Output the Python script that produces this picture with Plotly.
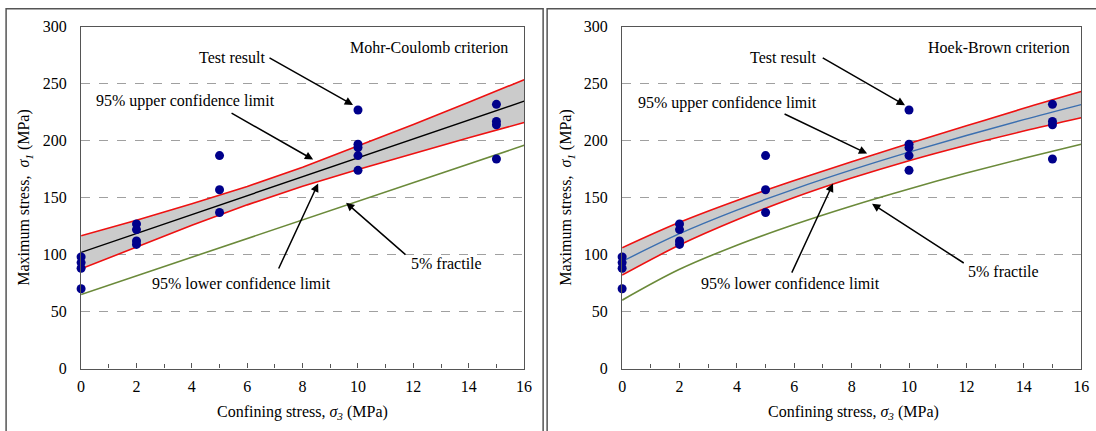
import plotly.graph_objects as go

# ---------------- data ----------------
sigma3_pts = [0, 0, 0, 0, 2, 2, 2, 2, 5, 5, 5, 10, 10, 10, 10, 10, 15, 15, 15, 15]
sigma1_pts = [98, 93, 88, 70, 127, 122, 112, 109, 187, 157, 137, 227, 197, 194, 187, 174, 232, 217, 214, 184]

s3_curve = [0, 2, 4, 6, 8, 10, 12, 14, 16]

# Mohr-Coulomb (left)
mc_mean = [102, 118.6, 135.2, 151.8, 168.4, 185, 201.6, 218.2, 234.8]
mc_upper = [116.5, 130.2, 144.6, 159.9, 176.8, 195.2, 214.3, 233.8, 253.6]
mc_lower = [87.5, 107, 125.8, 143.7, 160, 174.8, 188.9, 202.6, 216]
mc_frac5 = [65, 81.4, 97.8, 114.2, 130.6, 147, 163.4, 179.8, 196]

# Hoek-Brown (right)
hb_mean = [94, 118.4, 139.1, 157.6, 174.4, 190, 204.6, 218.5, 231.7]
hb_upper = [106, 128.4, 147.6, 165.1, 181.6, 197.5, 213.1, 228.5, 243.2]
hb_lower = [82, 108.4, 130.6, 150.1, 167.2, 182.5, 196.1, 208.5, 220.2]
hb_frac5 = [60, 87.1, 108.3, 126.5, 142.8, 157.7, 171.6, 184.6, 197]

x_ticks = [0, 2, 4, 6, 8, 10, 12, 14, 16]
y_ticks = [0, 50, 100, 150, 200, 250, 300]

FONT = "Times New Roman, Liberation Serif, serif"
W, H = 1096, 431


# map picture-pixel positions to paper coordinates (compensating the capture)
def px(X):
    return max(0.0, (X - 3.9) / 0.989) / W


def py(Y):
    return 1 - max(0.8, (Y - 8.2) / 0.956) / H


fig = go.Figure()


def add_panel(xa, ya, mean, upper, lower, frac, mean_color, shape):
    xr, yr = xa, ya
    fig.add_trace(go.Scatter(x=s3_curve, y=lower, mode="lines", line=dict(width=0, shape=shape),
                             xaxis=xr, yaxis=yr, showlegend=False, hoverinfo="skip"))
    fig.add_trace(go.Scatter(x=s3_curve, y=upper, mode="lines", line=dict(width=0, shape=shape),
                             fill="tonexty", fillcolor="#cbcbcb",
                             xaxis=xr, yaxis=yr, showlegend=False, hoverinfo="skip"))
    fig.add_trace(go.Scatter(x=s3_curve, y=upper, mode="lines", line=dict(color="#ee1111", width=1.6, shape=shape),
                             xaxis=xr, yaxis=yr, showlegend=False))
    fig.add_trace(go.Scatter(x=s3_curve, y=lower, mode="lines", line=dict(color="#ee1111", width=1.6, shape=shape),
                             xaxis=xr, yaxis=yr, showlegend=False))
    fig.add_trace(go.Scatter(x=s3_curve, y=mean, mode="lines", line=dict(color=mean_color, width=1.4, shape=shape),
                             xaxis=xr, yaxis=yr, showlegend=False))
    fig.add_trace(go.Scatter(x=s3_curve, y=frac, mode="lines", line=dict(color="#6b8a3a", width=1.6, shape=shape),
                             xaxis=xr, yaxis=yr, showlegend=False))
    fig.add_trace(go.Scatter(x=sigma3_pts, y=sigma1_pts, mode="markers",
                             marker=dict(color="#00008b", size=9), cliponaxis=False,
                             xaxis=xr, yaxis=yr, showlegend=False))


add_panel("x", "y", mc_mean, mc_upper, mc_lower, mc_frac5, "#000000", "linear")
add_panel("x2", "y2", hb_mean, hb_upper, hb_lower, hb_frac5, "#3b6fb0", "spline")

ydom = [py(367), py(27)]
axis_common_x = dict(range=[0, 16], tickvals=x_ticks, ticks="inside", ticklen=5, tickcolor="#555",
                     minor=dict(dtick=1, ticks="inside", ticklen=4, tickcolor="#555", showgrid=False),
                     showline=True, mirror=True, linecolor="#555", linewidth=1.2,
                     showgrid=False, zeroline=False, ticklabelstandoff=3,
                     tickfont=dict(family=FONT, size=16, color="#000"))
axis_common_y = dict(range=[0, 300], tickvals=y_ticks, ticks="", showline=True, mirror=True,
                     linecolor="#555", linewidth=1.2, showgrid=True, gridcolor="#a0a0a0",
                     griddash="dash", gridwidth=1, zeroline=False, ticklabelstandoff=10,
                     tickfont=dict(family=FONT, size=16, color="#000"), domain=ydom)

fig.update_layout(
    width=W, height=H, margin=dict(l=0, r=0, t=0, b=0),
    paper_bgcolor="white", plot_bgcolor="white",
    xaxis=dict(domain=[px(81), px(524)], anchor="y", **axis_common_x),
    yaxis=dict(anchor="x", **axis_common_y),
    xaxis2=dict(domain=[px(622), px(1081)], anchor="y2", **axis_common_x),
    yaxis2=dict(anchor="x2", **axis_common_y),
    showlegend=False,
)

ann = []
tf = dict(family=FONT, size=16, color="#000")


def txt(x, y, t, xr, yr):
    ann.append(dict(x=x, y=y, xref=xr, yref=yr, text=t, showarrow=False, font=tf,
                    xanchor="center", yanchor="middle"))


def arrow(xh, yh, xt, yt, xr, yr):
    ann.append(dict(x=xh, y=yh, ax=xt, ay=yt, xref=xr, yref=yr, axref=xr, ayref=yr, text="",
                    showarrow=True, arrowhead=2, arrowsize=1.1, arrowwidth=1.5, arrowcolor="#000",
                    standoff=0, startstandoff=0))


# left panel
txt(5.45, 273.5, "Test result", "x", "y")
arrow(9.82, 231.5, 6.75, 273.5, "x", "y")
txt(3.76, 234.7, "95% upper confidence limit", "x", "y")
arrow(8.38, 183.5, 5.38, 225, "x", "y")
txt(5.78, 75, "95% lower confidence limit", "x", "y")
arrow(8.56, 162.4, 7.11, 86.5, "x", "y")
txt(13.18, 92.6, "5% fractile", "x", "y")
arrow(9.57, 145.6, 11.77, 98.8, "x", "y")
txt(12.57, 281.5, "Mohr-Coulomb criterion", "x", "y")

# right panel
txt(5.61, 273.5, "Test result", "x2", "y2")
arrow(9.86, 231.2, 6.94, 273.5, "x2", "y2")
txt(3.66, 233, "95% upper confidence limit", "x2", "y2")
arrow(8.54, 188.8, 5.61, 224.1, "x2", "y2")
txt(5.86, 75, "95% lower confidence limit", "x2", "y2")
arrow(7.35, 162.4, 5.89, 82.9, "x2", "y2")
txt(13.31, 85.6, "5% fractile", "x2", "y2")
arrow(8.71, 144.7, 11.96, 91.8, "x2", "y2")
txt(13.14, 281.5, "Hoek-Brown criterion", "x2", "y2")

# axis titles
xt = "Confining stress, <i>σ</i><sub><i>3</i></sub> (MPa)"
yt = "Maximum stress,  <i>σ</i><sub><i>1</i></sub> (MPa)"
for cx in [302.5, 853]:
    ann.append(dict(x=px(cx), y=py(411), xref="paper", yref="paper", text=xt, showarrow=False, font=tf,
                    xanchor="center", yanchor="middle"))
for cx in [25, 567]:
    ann.append(dict(x=px(cx), y=py(197), xref="paper", yref="paper", text=yt, showarrow=False,
                    font=tf, textangle=-90, xanchor="center", yanchor="middle"))

fig.update_layout(annotations=ann)

# panel frames
fig.add_shape(type="rect", xref="paper", yref="paper", x0=px(6), x1=px(543), y0=-0.05, y1=py(6),
              line=dict(color="#555", width=1.5))
fig.add_shape(type="rect", xref="paper", yref="paper", x0=px(547), x1=1.05, y0=-0.05, y1=py(5),
              line=dict(color="#555", width=1.5))

fig.write_html("out.html", config={"displayModeBar": False},
               post_script="document.body.style.margin='0px';document.body.style.overflow='hidden';")
